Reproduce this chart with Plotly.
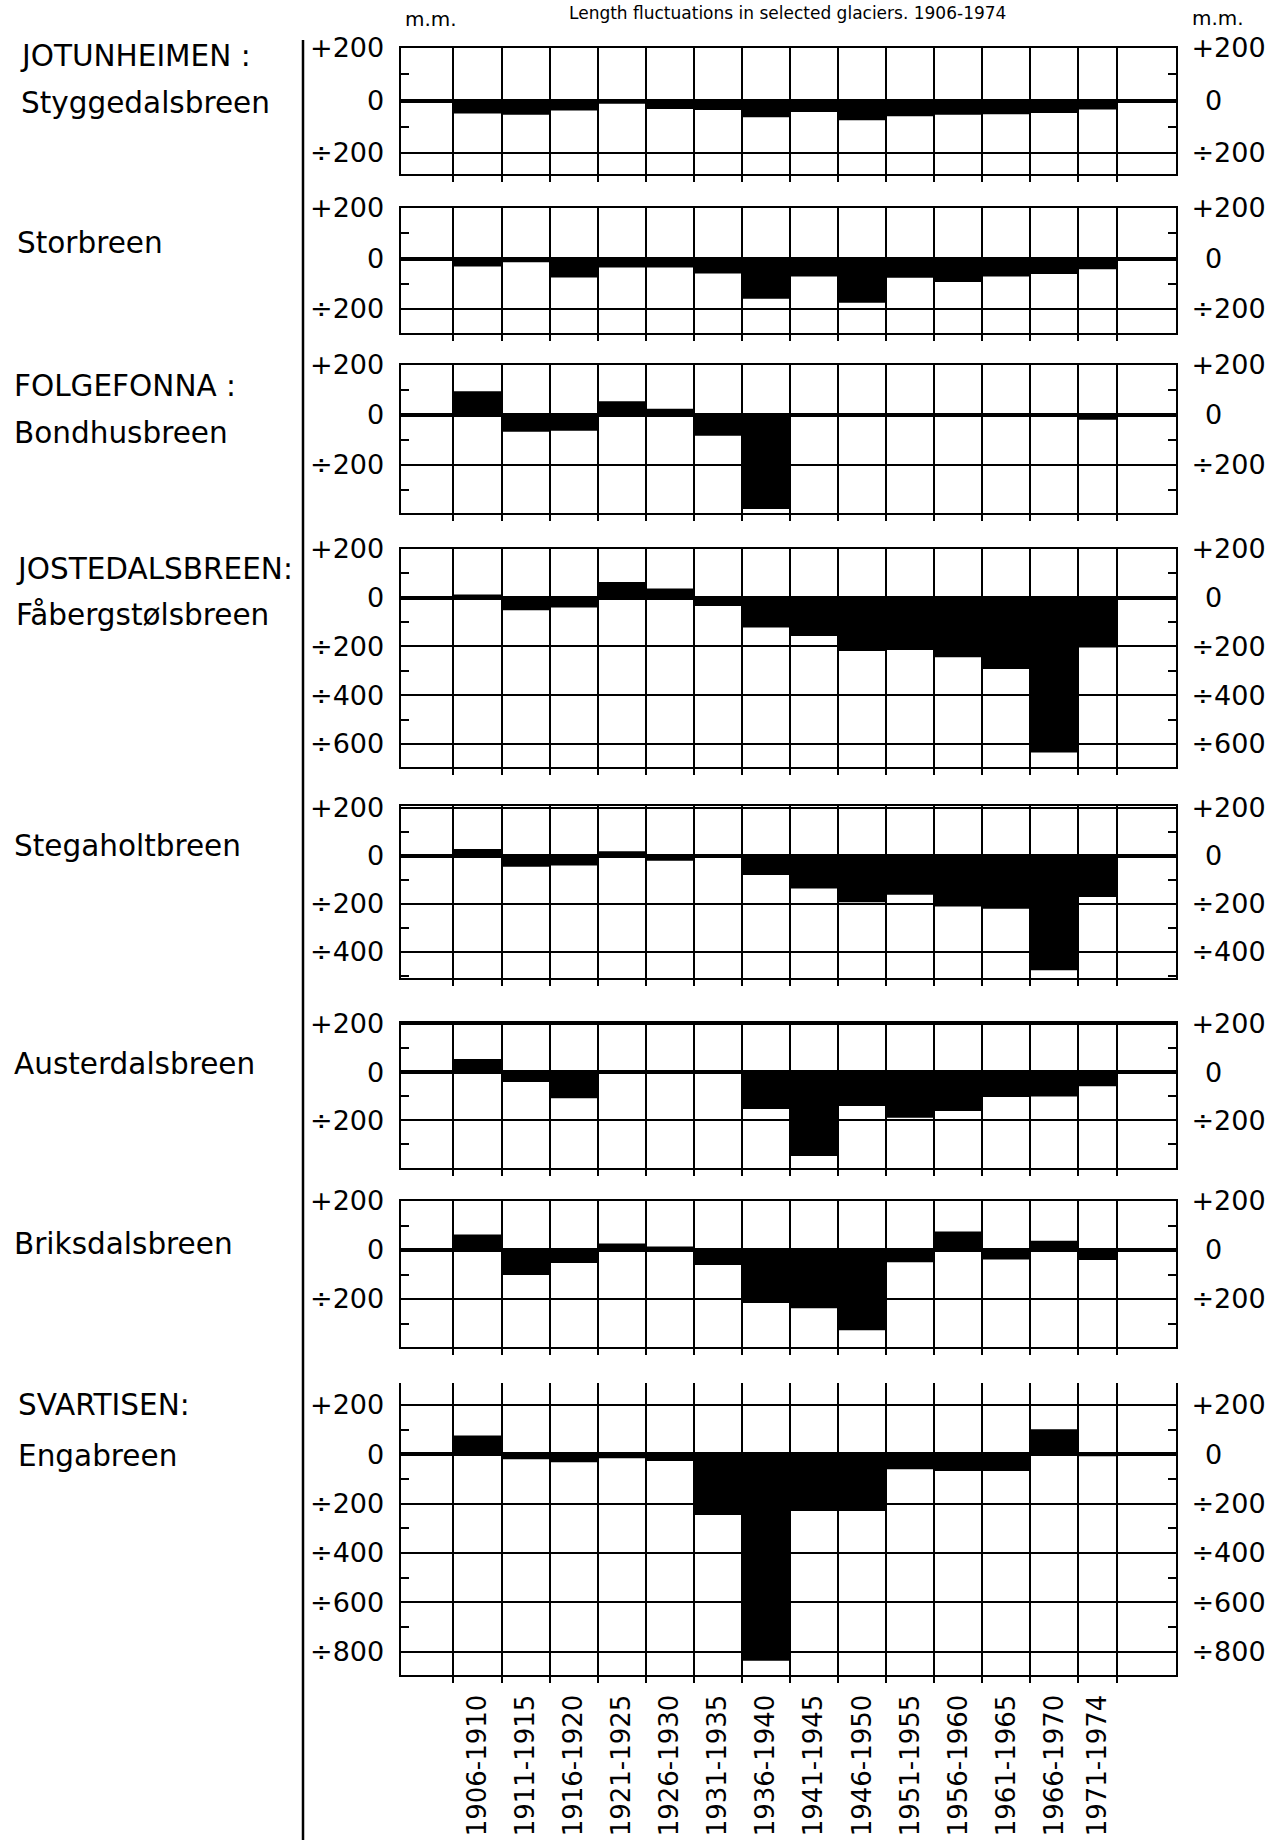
import plotly.graph_objects as go

# ---------------- data ----------------
periods = ["1906-1910", "1911-1915", "1916-1920", "1921-1925", "1926-1930",
           "1931-1935", "1936-1940", "1941-1945", "1946-1950", "1951-1955",
           "1956-1960", "1961-1965", "1966-1970", "1971-1974"]
period_start = [1906, 1911, 1916, 1921, 1926, 1931, 1936, 1941, 1946, 1951, 1956, 1961, 1966, 1971]
period_end = [1910, 1915, 1920, 1925, 1930, 1935, 1940, 1945, 1950, 1955, 1960, 1965, 1970, 1974]

styggedalsbreen = [-50, -54, -38, -12, -32, -36, -64, -44, -75, -60, -54, -52, -48, -34]
storbreen = [-32, -15, -75, -36, -36, -59, -159, -71, -175, -76, -93, -71, -61, -43]
bondhusbreen = [95, -67, -63, 55, 25, -83, -376, None, None, None, None, None, None, -19]
fabergstolsbreen = [12, -52, -41, 64, 37, -35, -123, -158, -219, -215, -245, -293, -635, -205]
stegaholtbreen = [29, -45, -40, 20, -20, -3, -79, -135, -193, -161, -210, -220, -476, -171]
austerdalsbreen = [55, -41, -108, None, None, None, -153, -348, -141, -189, -161, -103, -101, -59]
briksdalsbreen = [63, -102, -53, 27, 14, -61, -216, -238, -327, -50, 76, -39, 38, -41]
engabreen = [76, -20, -32, -16, -27, -246, -836, -230, -230, -61, -68, -68, 101, -8]

glacier_values = [styggedalsbreen, storbreen, bondhusbreen, fabergstolsbreen,
                  stegaholtbreen, austerdalsbreen, briksdalsbreen, engabreen]

# y-ranges of each panel (in metres)
y_ranges = [(-280, 200), (-295, 200), (-390, 200), (-695, 200),
            (-510, 210), (-398, 205), (-395, 200), (-895, 290)]

title_text = "Length fluctuations in selected glaciers. 1906-1974"
unit_text = "m.m."
left_labels = [("JOTUNHEIMEN :", 18, 56), ("Styggedalsbreen", 19, 103),
               ("Storbreen", 15, 243),
               ("FOLGEFONNA :", 12, 386), ("Bondhusbreen", 12, 433),
               ("JOSTEDALSBREEN:", 14, 569), ("Fåbergstølsbreen", 14, 615),
               ("Stegaholtbreen", 12, 846),
               ("Austerdalsbreen", 12, 1064),
               ("Briksdalsbreen", 12, 1244),
               ("SVARTISEN:", 16, 1405), ("Engabreen", 16, 1456)]

# ---------------- layout geometry (pixels) ----------------
W, H = 1269, 1840
panel_px = [(48, 174), (208, 333), (365, 512.5), (548.7, 767.2),
            (805.6, 978.4), (1022.8, 1168), (1201, 1346.8), (1382.7, 1675.2)]
X_LEFT, X_RIGHT = 400.6, 1175.5
FONT = "DejaVu Sans"


def px(v):
    return v / W


def py(v):
    return 1 - v / H


centers = [(s + e) / 2 for s, e in zip(period_start, period_end)]
widths = [e - s + 1 for s, e in zip(period_start, period_end)]
boundaries = [s - 0.5 for s in period_start] + [period_end[-1] + 0.5]
x_range = [1900, 1980.6]


def fmt_left(v):
    if v > 0:
        return "+%d" % v
    if v < 0:
        return "\u00f7%d" % (-v)
    return "0"


def fmt_right(v):
    if v == 0:
        return "\u20020"
    return fmt_left(v)


fig = go.Figure()
layout = dict(width=W, height=H, margin=dict(l=0, r=0, t=0, b=0, pad=0, autoexpand=False),
              paper_bgcolor="white", plot_bgcolor="white", showlegend=False,
              font=dict(family=FONT, color="black"))

n = len(glacier_values)
for i in range(n):
    k = i + 1
    lo, hi = y_ranges[i]
    top, bot = panel_px[i]
    fig.add_trace(go.Bar(x=centers, y=glacier_values[i], width=widths,
                         marker=dict(color="black", line=dict(width=0)),
                         xaxis="x%d" % k, yaxis="y%d" % k, hoverinfo="skip"))
    # empty companion trace so the right-hand scale of this panel is rendered
    fig.add_trace(go.Scatter(x=[], y=[], mode="lines",
                             xaxis="x%d" % k, yaxis="y%d" % (k + n), hoverinfo="skip"))
    majors = [v for v in range(-1000, 401, 200) if lo <= v <= hi]
    minors = [v for v in range(-900, 401, 200) if lo <= v <= hi]
    last = (k == n)
    layout["xaxis%d" % k] = dict(
        domain=[px(X_LEFT), px(X_RIGHT)], range=x_range, anchor="y%d" % k,
        tickmode="array", tickvals=centers if last else [],
        ticktext=periods if last else [], showticklabels=last,
        tickangle=-90, ticks="", tickfont=dict(size=26, family=FONT),
        ticklabelstandoff=7, automargin=False,
        showgrid=False, zeroline=False,
        showline=True, linecolor="black", linewidth=2, mirror=not last,
        minor=dict(tickmode="array", tickvals=boundaries, showgrid=True,
                   gridcolor="black", gridwidth=1.6, ticks="outside",
                   ticklen=6, tickcolor="black", tickwidth=1.6),
    )
    ydom = [py(bot), py(top)]
    minor_common = dict(tickmode="array", tickvals=minors, ticks="inside",
                        ticklen=8, tickwidth=2, tickcolor="black", showgrid=False)
    layout["yaxis%d" % k] = dict(
        domain=ydom, range=[lo, hi], anchor="x%d" % k,
        tickmode="array", tickvals=majors, ticktext=[fmt_left(v) for v in majors],
        ticks="", tickfont=dict(size=27, family=FONT), ticklabelstandoff=9,
        automargin=False,
        showgrid=True, gridcolor="black", gridwidth=1.6,
        zeroline=True, zerolinecolor="black", zerolinewidth=3.5,
        showline=True, linecolor="black", linewidth=2, mirror=True,
        minor=minor_common,
    )
    layout["yaxis%d" % (k + n)] = dict(
        domain=ydom, range=[lo, hi], anchor="x%d" % k, overlaying="y%d" % k,
        side="right", tickmode="array", tickvals=majors,
        ticktext=[fmt_right(v) for v in majors],
        ticks="", tickfont=dict(size=27, family=FONT), ticklabelstandoff=15,
        automargin=False,
        showgrid=False, zeroline=False, showline=False,
        minor=minor_common,
    )

annotations = []
for text, x, y in left_labels:
    annotations.append(dict(text=text, xref="paper", yref="paper", x=px(x), y=py(y),
                            xanchor="left", yanchor="middle", showarrow=False,
                            font=dict(size=29.5, family=FONT)))
annotations.append(dict(text=unit_text, xref="paper", yref="paper", x=px(403), y=py(19),
                        xanchor="left", yanchor="middle", showarrow=False,
                        font=dict(size=20, family=FONT)))
annotations.append(dict(text=unit_text, xref="paper", yref="paper", x=px(1190), y=py(18),
                        xanchor="left", yanchor="middle", showarrow=False,
                        font=dict(size=20, family=FONT)))
annotations.append(dict(text=title_text, xref="paper", yref="paper", x=px(787), y=py(1),
                        xanchor="center", yanchor="top", showarrow=False,
                        font=dict(size=17, family=FONT)))
layout["annotations"] = annotations
layout["shapes"] = [dict(type="line", xref="paper", yref="paper",
                         x0=px(303), x1=px(303), y0=py(40), y1=0,
                         line=dict(color="black", width=2.5))]

fig.update_layout(**layout)
fig.write_html("out.html", config={"displayModeBar": False},
               post_script="document.body.style.margin='0';document.body.style.overflow='hidden';")
